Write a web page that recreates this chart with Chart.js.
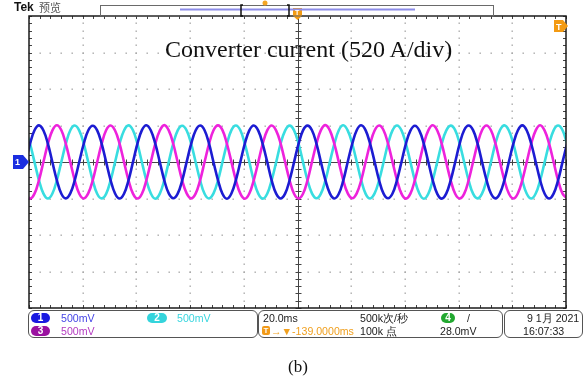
<!DOCTYPE html>
<html>
<head>
<meta charset="utf-8">
<script src="https://cdn.jsdelivr.net/npm/chart.js@4"></script>
<style>
body { margin: 0; background: #fff; }
#wrap { position: relative; width: 586px; height: 381px; overflow: hidden; font-family: "Liberation Sans", sans-serif; }
canvas { position: absolute; left: 0; top: 0; }
.t { position: absolute; white-space: nowrap; font-size: 10.6px; line-height: 12px; color: #222; }
.box { position: absolute; box-sizing: border-box; border: 1px solid #555; border-radius: 6px; }
.pill { position: absolute; height: 10px; border-radius: 5px; color: #fff; font-size: 10px; line-height: 10px; text-align: center; font-weight: bold; }
</style>
</head>
<body>
<div id="wrap">
  <canvas id="scope" width="586" height="381"></canvas>

  <div class="t" style="left:14px;top:1px;font-size:12px;font-weight:bold;color:#111">Tek</div>
  <div class="t" style="left:39px;top:1px;font-size:11px;color:#555;font-family:'Noto Sans CJK SC'">预览</div>

  <div class="t" id="title" style="left:165px;top:37px;font-family:'Liberation Serif';font-size:24px;line-height:24px;color:#111">Converter current (520 A/div)</div>

  <div class="t" style="left:15px;top:156px;font-size:9px;color:#fff;font-weight:bold">1</div>
  <div class="t" style="left:556px;top:21px;font-size:9px;color:#fff;font-weight:bold">T</div>
  <div class="t" style="left:295px;top:7px;font-size:7px;color:#fff;font-weight:bold">T</div>

  <div class="box" style="left:28px;top:310px;width:230px;height:28px"></div>
  <div class="pill" style="left:31px;top:313px;width:19px;background:#1a1ae0">1</div>
  <div class="t" style="left:61px;top:312px;color:#4646e6">500mV</div>
  <div class="pill" style="left:147px;top:313px;width:20px;background:#34d4dc">2</div>
  <div class="t" style="left:177px;top:312px;color:#3ad6df">500mV</div>
  <div class="pill" style="left:31px;top:326px;width:19px;background:#9a12a0">3</div>
  <div class="t" style="left:61px;top:325px;color:#b43cc0">500mV</div>

  <div class="box" style="left:258px;top:310px;width:245px;height:28px"></div>
  <div class="t" style="left:263px;top:312px">20.0ms</div>
  <div class="pill" style="left:262px;top:326px;width:8px;height:9px;border-radius:2px;background:#f29a18;font-size:8px;line-height:9px">T</div>
  <div class="t" style="left:271px;top:325px;color:#f0a020">→▼-139.0000ms</div>
  <div class="t" style="left:360px;top:312px">500k次/秒</div>
  <div class="t" style="left:360px;top:325px">100k 点</div>
  <div class="pill" style="left:441px;top:313px;width:14px;background:#22a830">4</div>
  <div class="t" style="left:467px;top:312px">/</div>
  <div class="t" style="left:440px;top:325px">28.0mV</div>

  <div class="box" style="left:504px;top:310px;width:79px;height:28px"></div>
  <div class="t" style="left:527px;top:312px">9 1月 2021</div>
  <div class="t" style="left:523px;top:325px">16:07:33</div>

  <div class="t" style="left:288px;top:357px;font-family:'Liberation Serif';font-size:17px;line-height:20px;color:#111">(b)</div>
</div>

<script>
// scope settings: 20 ms/div, 520 A/div, 10 x 8 divisions
let msPerDiv = 20;
let ampPerDiv = 520;
let sampleMs = 20 / 12;   // one sample every 1/12 division
let startMs = -1.28;

// phase currents (A), one row per 20 ms cycle
let currentA = [
    0, 262, 452, 522, 448, 258, -4, -262, -452, -518, -447, -258,
    3, 259, 449, 516, 451, 263, 2, -257, -449, -521, -452, -261,
    -2, 261, 454, 524, 449, 259, 0, -261, -448, -516, -450, -263,
    1, 257, 448, 519, 453, 261, -3, -259, -453, -523, -448, -257,
    2, 263, 451, 521, 447, 256, 1, -263, -451, -519, -451, -260,
    -1, 258, 450, 518, 452, 262, -2, -258, -447, -520, -453, -262,
    4, 260, 453, 523, 450, 259, 3, -260, -450, -517, -449, -259,
    0, 262, 447, 517, 448, 257, -1, -262, -454, -522, -451, -261,
    -3, 259, 452, 520, 454, 264, 2, -256, -449, -518, -446, -258,
    2, 261, 449, 522, 449, 260, 0, -261, -452, -521, -450, -260,
    1, 259
];
let currentB = [
    -449, -522, -451, -258, 3, 262, 451, 524, 452, 259, -2, -261,
    -452, -519, -448, -262, -1, 258, 453, 521, 449, 263, 1, -258,
    -450, -521, -453, -259, 2, 261, 449, 526, 451, 260, -3, -262,
    -447, -518, -450, -261, 0, 259, 452, 522, 454, 258, 2, -259,
    -451, -523, -449, -257, -2, 263, 450, 520, 448, 262, 0, -260,
    -453, -520, -452, -263, 1, 260, 454, 525, 450, 257, -1, -263,
    -448, -517, -447, -260, 3, 258, 448, 519, 453, 261, 2, -257,
    -450, -522, -451, -258, -2, 262, 451, 523, 449, 259, -3, -261,
    -452, -519, -454, -262, 0, 257, 453, 521, 452, 264, 1, -259,
    -449, -521, -448, -259, 2, 261, 450, 524, 447, 258, 0, -262,
    -451, -520
];
let currentC = [
    451, 258, -2, -262, -451, -521, -449, -257, 3, 261, 452, 519,
    448, 262, 1, -259, -452, -518, -453, -262, -1, 258, 449, 522,
    453, 259, -3, -261, -448, -523, -450, -259, 2, 263, 451, 517,
    449, 261, 0, -258, -453, -519, -447, -261, 0, 259, 454, 521,
    452, 257, 2, -263, -450, -522, -452, -258, -2, 262, 448, 518,
    450, 263, -1, -260, -447, -517, -451, -263, 1, 257, 453, 523,
    447, 260, 3, -257, -454, -520, -448, -260, -3, 261, 450, 520,
    451, 258, -2, -262, -449, -524, -453, -256, 2, 260, 447, 518,
    454, 262, 0, -259, -451, -518, -450, -262, 0, 264, 452, 522,
    449, 259, 1, -261, -452, -521, -449, -259, -1, 258, 451, 519,
    452, 261
];

function toPoints(values) {
    return values.map((v, i) => ({ x: startMs + i * sampleMs, y: v }));
}

// graticule, trigger markers and record bar
const scopePlugin = {
    id: "scope",
    beforeDatasetsDraw(chart) {
        let { ctx, chartArea: a, scales: { x, y } } = chart;
        let minorX = msPerDiv / 5, minorY = ampPerDiv / 5;
        ctx.save();

        // dotted grid
        ctx.fillStyle = "#a8a8a8";
        for (let gx = msPerDiv; gx < 10 * msPerDiv; gx += msPerDiv) {
            if (gx === 5 * msPerDiv) continue;
            let px = Math.round(x.getPixelForValue(gx));
            for (let gy = -4 * ampPerDiv; gy <= 4 * ampPerDiv; gy += minorY) {
                ctx.fillRect(px - 0.5, Math.round(y.getPixelForValue(gy)) - 0.5, 1.4, 1.4);
            }
        }
        for (let gy = -3 * ampPerDiv; gy <= 3 * ampPerDiv; gy += ampPerDiv) {
            if (gy === 0) continue;
            let py = Math.round(y.getPixelForValue(gy));
            for (let gx = 0; gx <= 10 * msPerDiv; gx += minorX) {
                ctx.fillRect(Math.round(x.getPixelForValue(gx)) - 0.5, py - 0.5, 1.4, 1.4);
            }
        }

        // centre cross with ticks
        let cx = Math.round(x.getPixelForValue(5 * msPerDiv)) + 0.5;
        let cy = Math.round(y.getPixelForValue(0)) + 0.5;
        ctx.strokeStyle = "#444";
        ctx.lineWidth = 1;
        ctx.beginPath();
        ctx.moveTo(a.left, cy); ctx.lineTo(a.right, cy);
        ctx.moveTo(cx, a.top); ctx.lineTo(cx, a.bottom);
        for (let gx = 0; gx <= 10 * msPerDiv; gx += minorX) {
            let px = Math.round(x.getPixelForValue(gx)) + 0.5;
            ctx.moveTo(px, cy - 3); ctx.lineTo(px, cy + 3);
            ctx.moveTo(px, a.top); ctx.lineTo(px, a.top + 3);
            ctx.moveTo(px, a.bottom); ctx.lineTo(px, a.bottom - 3);
        }
        for (let gy = -4 * ampPerDiv; gy <= 4 * ampPerDiv; gy += minorY) {
            let py = Math.round(y.getPixelForValue(gy)) + 0.5;
            ctx.moveTo(cx - 3, py); ctx.lineTo(cx + 3, py);
            ctx.moveTo(a.left, py); ctx.lineTo(a.left + 3, py);
            ctx.moveTo(a.right, py); ctx.lineTo(a.right - 3, py);
        }
        ctx.stroke();
        ctx.restore();
    },
    afterDatasetsDraw(chart) {
        let { ctx, chartArea: a, scales: { x, y } } = chart;
        ctx.save();
        ctx.strokeStyle = "#1a1a1a";
        ctx.lineWidth = 1.5;
        ctx.strokeRect(a.left, a.top, a.right - a.left, a.bottom - a.top);

        // channel 1 ground marker
        let gy = y.getPixelForValue(0);
        ctx.fillStyle = "#1b2ee0";
        ctx.beginPath();
        ctx.moveTo(13, gy - 7); ctx.lineTo(23, gy - 7); ctx.lineTo(29, gy);
        ctx.lineTo(23, gy + 7); ctx.lineTo(13, gy + 7); ctx.closePath();
        ctx.fill();

        // trigger level marker (right)
        ctx.fillStyle = "#f39a12";
        ctx.beginPath();
        ctx.moveTo(554, 20); ctx.lineTo(563, 20); ctx.lineTo(568, 26);
        ctx.lineTo(563, 32); ctx.lineTo(554, 32); ctx.closePath();
        ctx.fill();

        // trigger position marker (top)
        let tx = x.getPixelForValue(5 * msPerDiv);
        ctx.beginPath();
        ctx.moveTo(tx - 4.5, 8); ctx.lineTo(tx + 4.5, 8); ctx.lineTo(tx + 4.5, 16);
        ctx.lineTo(tx, 20); ctx.lineTo(tx - 4.5, 16); ctx.closePath();
        ctx.fill();
        ctx.restore();
    },
    afterDraw(chart) {
        let ctx = chart.ctx;
        ctx.save();
        // record view bar
        ctx.strokeStyle = "#6a6a6a";
        ctx.lineWidth = 1;
        ctx.strokeRect(100.5, 5.5, 393, 10.5);
        ctx.strokeStyle = "#8c8ce8";
        ctx.lineWidth = 2;
        ctx.beginPath();
        ctx.moveTo(180, 9.5); ctx.lineTo(415, 9.5);
        ctx.stroke();
        ctx.strokeStyle = "#111";
        ctx.lineWidth = 1.5;
        ctx.beginPath();
        ctx.moveTo(243, 5); ctx.lineTo(241, 5); ctx.lineTo(241, 16); ctx.lineTo(243, 16);
        ctx.moveTo(287, 5); ctx.lineTo(289, 5); ctx.lineTo(289, 16); ctx.lineTo(287, 16);
        ctx.stroke();
        ctx.fillStyle = "#f5a623";
        ctx.beginPath();
        ctx.arc(265, 3, 2.5, 0, Math.PI * 2);
        ctx.fill();
        ctx.restore();
    }
};

new Chart(document.getElementById("scope"), {
    type: "line",
    data: {
        datasets: [
            { label: "CH1", data: toPoints(currentA), borderColor: "#1c1cd2" },
            { label: "CH3", data: toPoints(currentB), borderColor: "#ee22dc" },
            { label: "CH2", data: toPoints(currentC), borderColor: "#38dde0" }
        ]
    },
    options: {
        responsive: false,
        animation: false,
        layout: { padding: { left: 29, right: 20, top: 16, bottom: 73 } },
        scales: {
            x: { type: "linear", min: 0, max: 10 * msPerDiv, display: false },
            y: { min: -4 * ampPerDiv, max: 4 * ampPerDiv, display: false }
        },
        elements: {
            point: { radius: 0 },
            line: { borderWidth: 2.6, tension: 0.4 }
        },
        plugins: {
            legend: { display: false },
            tooltip: { enabled: false }
        }
    },
    plugins: [scopePlugin]
});
</script>
</body>
</html>
